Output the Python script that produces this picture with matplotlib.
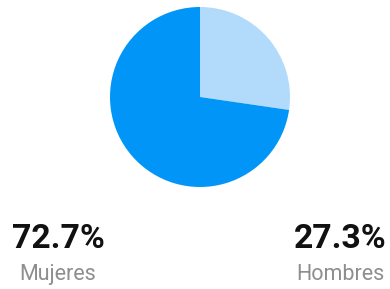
import matplotlib.pyplot as plt

labels = ['Hombres', 'Mujeres']
values = [27.3, 72.7]
colors = ['#b2dbfb', '#0095f6']

plt.rcParams['font.family'] = ['Roboto', 'DejaVu Sans']

W, H = 390, 289
fig = plt.figure(figsize=(W / 100, H / 100), dpi=100)

# pie area, in pixels from the bottom-left
cx, cy, r = 200, 192, 90
ax = fig.add_axes([(cx - r) / W, (cy - r) / H, 2 * r / W, 2 * r / H])
ax.pie(values, colors=colors, startangle=90, counterclock=False,
       wedgeprops=dict(linewidth=0))
ax.set_xlim(-1, 1)
ax.set_ylim(-1, 1)
ax.set_aspect('equal')
ax.axis('off')

# captions under the pie
pos = {'Mujeres': 58, 'Hombres': 340}
for lab, val in zip(labels, values):
    x = pos[lab] / W
    fig.text(x, 41 / H, f'{val}%', ha='center', va='baseline',
             fontsize=24.3, fontweight='bold', color='#111111')
    fig.text(x, 9 / H, lab, ha='center', va='baseline',
             fontsize=15.5, color='#8e8e8e')

fig.savefig('out.png', dpi=100)
